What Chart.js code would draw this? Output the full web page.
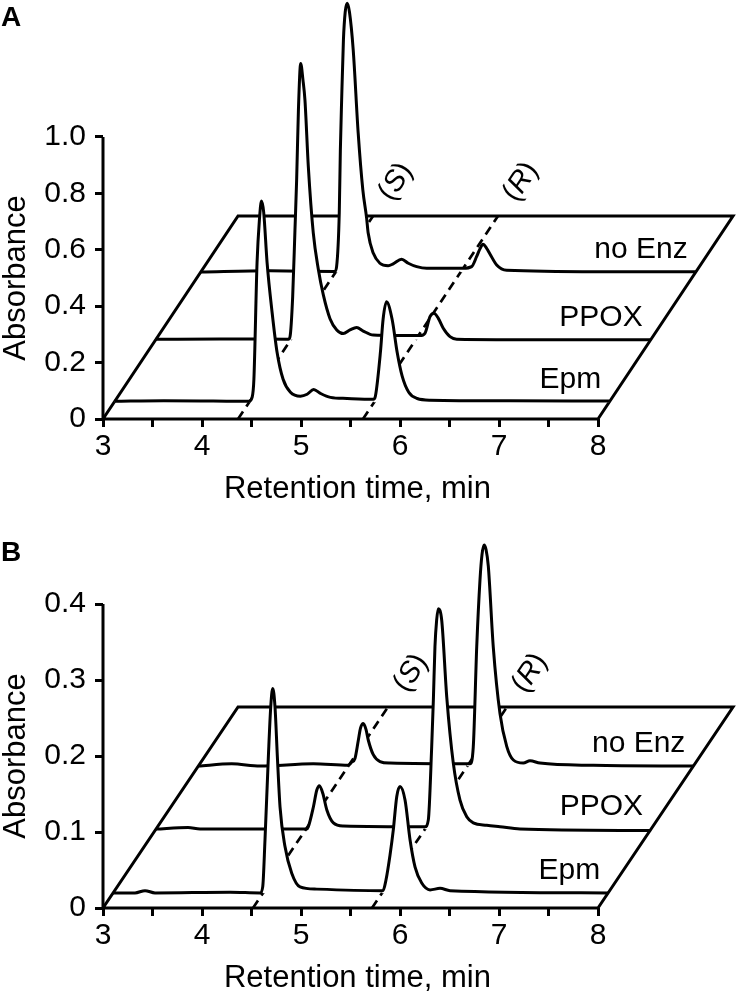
<!DOCTYPE html>
<html>
<head>
<meta charset="utf-8">
<title>Chiral HPLC traces</title>
<script src="https://cdn.jsdelivr.net/npm/chart.js@4"></script>
<style>
    body { margin: 0; background: #fff; }
    .panel { position: absolute; left: 0; }
</style>
</head>
<body>
<div class="panel" style="top: 0;"><canvas id="chartA" width="737" height="510"></canvas></div>
<div class="panel" style="top: 510px;"><canvas id="chartB" width="737" height="486"></canvas></div>
<script>
// Tick labels
const xTicks = [3, 3.5, 4, 4.5, 5, 5.5, 6, 6.5, 7, 7.5, 8];
const yTicksA = [0, 0.2, 0.4, 0.6, 0.8, 1.0];
const yTicksB = [0, 0.1, 0.2, 0.3, 0.4];

// Samples, front to back
const samples = ['Epm', 'PPOX', 'no Enz'];
const enantLabels = ['S', 'R'];

// Pseudo-3D stacking: depth of the floor in minutes / absorbance, and where each trace sits in it
const depthX = 1.364;
const floorA = 0.72;
const floorB = 0.2645;
const depthA = [0.083, 0.39, 0.724];
const depthB = [0.075, 0.393, 0.706];

// Retention time of the (S) and (R) guide lines at the front edge
const enantA = [4.364, 5.626];
const enantB = [4.515, 5.717];

// Traces: [retention time (min), absorbance above the trace's own baseline]
const epmA = [[3.0, 0.003], [3.5, 0.005], [4.0, 0.004], [4.36, 0.003], [4.393, 0.017], [4.411, 0.081], [4.443, 0.496],
    [4.467, 0.648], [4.487, 0.713], [4.510, 0.673], [4.544, 0.496], [4.595, 0.318], [4.645, 0.177], [4.706, 0.081],
    [4.780, 0.035], [4.881, 0.021], [4.949, 0.028], [5.015, 0.045], [5.083, 0.031], [5.184, 0.017], [5.353, 0.013],
    [5.618, 0.010], [5.638, 0.021], [5.689, 0.177], [5.716, 0.294], [5.750, 0.356], [5.807, 0.294], [5.858, 0.177],
    [5.908, 0.093], [5.975, 0.035], [6.060, 0.013], [6.194, 0.007], [7.0, 0.005], [8.0, 0.004]];
const ppoxA = [[3.0, 0.002], [3.65, 0.003], [4.34, 0.002], [4.357, 0.011], [4.384, 0.153], [4.407, 0.389], [4.424, 0.567],
    [4.442, 0.815], [4.465, 0.980], [4.488, 0.921], [4.508, 0.850], [4.542, 0.614], [4.592, 0.379], [4.643, 0.250],
    [4.693, 0.160], [4.761, 0.075], [4.829, 0.035], [4.895, 0.022], [4.963, 0.035], [5.030, 0.044], [5.097, 0.031],
    [5.198, 0.017], [5.670, 0.015], [5.720, 0.023], [5.771, 0.082], [5.811, 0.094], [5.855, 0.076], [5.905, 0.041],
    [5.973, 0.011], [6.041, 0.002], [7.0, 0.0], [8.0, 0.0]];
const noEnzA = [[3.0, 0.0], [3.7, 0.004], [4.355, 0.002], [4.372, 0.019], [4.399, 0.210], [4.410, 0.433], [4.423, 0.610],
    [4.441, 0.823], [4.459, 0.922], [4.479, 0.953], [4.502, 0.922], [4.540, 0.787], [4.590, 0.493], [4.637, 0.291],
    [4.675, 0.192], [4.691, 0.138], [4.742, 0.067], [4.809, 0.031], [4.893, 0.022], [4.944, 0.029], [5.029, 0.045],
    [5.096, 0.031], [5.181, 0.019], [5.282, 0.013], [5.652, 0.013], [5.736, 0.019], [5.787, 0.055], [5.820, 0.082],
    [5.850, 0.098], [5.886, 0.085], [5.921, 0.064], [5.989, 0.025], [6.090, 0.006], [7.0, 0.001], [8.0, 0.001]];

const epmB = [[3.0, 0.0], [3.221, 0.0], [3.322, 0.003], [3.423, 0.0], [4.181, 0.001], [4.484, 0.0], [4.511, 0.008],
    [4.534, 0.070], [4.568, 0.179], [4.592, 0.245], [4.612, 0.269], [4.635, 0.245], [4.659, 0.179], [4.686, 0.113],
    [4.736, 0.061], [4.804, 0.026], [4.888, 0.008], [5.057, 0.005], [5.726, 0.003], [5.756, 0.017], [5.797, 0.050],
    [5.830, 0.083], [5.865, 0.127], [5.898, 0.140], [5.949, 0.122], [5.999, 0.070], [6.050, 0.034], [6.117, 0.013],
    [6.201, 0.004], [6.302, 0.006], [6.403, 0.003], [8.0, 0.0]];
const ppoxB = [[3.0, 0.0], [3.323, 0.002], [3.444, 0.0], [4.522, 0.0], [4.538, 0.003], [4.589, 0.029], [4.623, 0.051],
    [4.650, 0.057], [4.684, 0.047], [4.725, 0.025], [4.791, 0.008], [4.891, 0.004], [5.717, 0.003], [5.750, 0.012],
    [5.784, 0.108], [5.801, 0.170], [5.817, 0.240], [5.834, 0.275], [5.851, 0.290], [5.885, 0.275], [5.936, 0.174],
    [6.002, 0.087], [6.070, 0.038], [6.138, 0.016], [6.204, 0.008], [6.340, 0.005], [6.474, 0.003], [6.676, 0.0],
    [8.0, -0.002]];
const noEnzB = [[3.0, 0.0], [3.337, 0.003], [3.623, 0.0], [4.161, 0.003], [4.515, 0.001], [4.547, 0.005], [4.582, 0.010],
    [4.616, 0.034], [4.638, 0.050], [4.666, 0.056], [4.694, 0.048], [4.717, 0.034], [4.767, 0.015], [4.835, 0.006],
    [4.936, 0.004], [5.744, 0.003], [5.777, 0.025], [5.812, 0.157], [5.845, 0.245], [5.865, 0.278], [5.886, 0.291],
    [5.906, 0.285], [5.929, 0.263], [5.979, 0.157], [6.047, 0.069], [6.115, 0.026], [6.182, 0.008], [6.283, 0.004],
    [6.350, 0.007], [6.451, 0.004], [6.990, 0.001], [8.0, 0.0]];

const FONT = '"Liberation Sans", Arial, Helvetica, sans-serif';

// "(S)" with the letter in italics, centred on the current origin
function drawEnantLabel(ctx, letter) {
    const up = `29px ${FONT}`;
    const it = `italic 29px ${FONT}`;
    ctx.font = up;
    const wp = ctx.measureText('(').width;
    const wq = ctx.measureText(')').width;
    ctx.font = it;
    const wl = ctx.measureText(letter).width;
    let x = -(wp + wl + wq) / 2;
    ctx.textAlign = 'left';
    ctx.textBaseline = 'middle';
    ctx.font = up; ctx.fillText('(', x, 0); x += wp;
    ctx.font = it; ctx.fillText(letter, x, 0); x += wl;
    ctx.font = up; ctx.fillText(')', x, 0);
}

const annotations = {
    id: 'annotations',
    afterDraw(chart, args, opts) {
        const p = opts.panel;
        const { ctx } = chart;
        const x = chart.scales.x, y = chart.scales.y;
        ctx.save();
        ctx.fillStyle = '#000';

        ctx.font = `bold 28px ${FONT}`;
        ctx.textAlign = 'left';
        ctx.textBaseline = 'alphabetic';
        ctx.fillText(p.letter, 1, p.letterY);

        // axis titles, centred on the labelled part of each axis
        ctx.font = `31px ${FONT}`;
        ctx.textAlign = 'center';
        ctx.save();
        ctx.translate(25, y.getPixelForValue(p.yTicks[p.yTicks.length - 1] / 2));
        ctx.rotate(-Math.PI / 2);
        ctx.fillText('Absorbance', 0, 0);
        ctx.restore();
        ctx.fillText('Retention time, min', x.getPixelForValue(5.57), y.getPixelForValue(0) + 79);

        // sample names just above the right end of each trace
        ctx.font = `30px ${FONT}`;
        ctx.textAlign = 'right';
        samples.forEach((name, i) => {
            const d = p.depth[i];
            ctx.fillText(name, x.getPixelForValue(8 + d * depthX) - 8, y.getPixelForValue(d * p.floor) - 14);
        });

        // (S) / (R) beyond the back end of the dashed guide lines
        p.enant.forEach((t0, i) => {
            const x0 = x.getPixelForValue(t0), y0 = y.getPixelForValue(0);
            const x1 = x.getPixelForValue(t0 + depthX), y1 = y.getPixelForValue(p.floor);
            const len = Math.hypot(x1 - x0, y1 - y0);
            const ux = (x1 - x0) / len, uy = (y1 - y0) / len;
            ctx.save();
            ctx.translate(x1 + ux * 41, y1 + uy * 41);
            ctx.rotate(Math.atan2(uy, ux));
            drawEnantLabel(ctx, enantLabels[i]);
            ctx.restore();
        });
        ctx.restore();
    }
};

function solid(data, width) {
    return { data, borderColor: '#000', borderWidth: width, pointRadius: 0, tension: 0, fill: false, clip: false, borderJoinStyle: 'miter' };
}

function makePanel(id, p) {
    const pt = (t, d, a) => ({ x: t + d * depthX, y: a + d * p.floor });

    const trace = (pts, d) => ({
        data: pts.map(([t, a]) => pt(t, d, a)),
        borderColor: '#000',
        borderWidth: 3,
        borderJoinStyle: 'round',
        pointRadius: 0,
        cubicInterpolationMode: 'monotone',
        fill: { value: d * p.floor },   // white wall under the trace hides what is behind it
        backgroundColor: '#fff',
        clip: false
    });

    // dashed guide lines, cut where each trace passes so that peaks in front can cover them
    const bands = [0, ...p.depth, 1];
    const guides = k => p.enant.map(t0 => ({
        ...solid([pt(t0, bands[k], 0), pt(t0, bands[k + 1], 0)], 2.7),
        borderDash: [9, 6]
    }));

    const floor = solid([pt(8, 0, 0), pt(3, 0, 0), pt(3, 1, 0), pt(8, 1, 0), pt(8, 0, 0)], 3);
    const yAxisLine = solid([{ x: 3, y: 0 }, { x: 3, y: p.yTicks[p.yTicks.length - 1] }], 3);

    // first dataset is drawn on top
    const datasets = [
        yAxisLine,
        ...guides(0), trace(p.traces[0], p.depth[0]),
        ...guides(1), trace(p.traces[1], p.depth[1]),
        ...guides(2), trace(p.traces[2], p.depth[2]),
        ...guides(3),
        floor
    ];

    const tickFont = { family: FONT, size: 30 };

    return new Chart(document.getElementById(id), {
        type: 'line',
        data: { datasets },
        options: {
            responsive: false,
            animation: false,
            events: [],
            layout: { padding: { top: 2, right: 0, bottom: 0, left: 0 } },
            plugins: { legend: { display: false }, tooltip: { enabled: false }, annotations: { panel: p } },
            scales: {
                x: {
                    type: 'linear',
                    min: 3,
                    max: 9.404,
                    afterBuildTicks: s => { s.ticks = xTicks.map(v => ({ value: v })); },
                    afterFit: s => { s.height = p.xAxisHeight; s.paddingLeft = 0; s.paddingRight = 0; },
                    border: { display: false },
                    grid: { drawOnChartArea: false, tickLength: 8, tickWidth: 3, tickColor: '#000' },
                    ticks: {
                        autoSkip: false, maxRotation: 0, padding: 2, color: '#000', font: tickFont,
                        callback: v => Number.isInteger(v) ? String(v) : ''
                    }
                },
                y: {
                    type: 'linear',
                    min: 0,
                    max: p.yMax,
                    afterBuildTicks: s => { s.ticks = p.yTicks.map(v => ({ value: v })); },
                    // fixed width, and no extra room for the top label: the axis stops well below the chart top
                    afterFit: s => { s.width = 103; s.paddingTop = 0; s.paddingBottom = 0; },
                    border: { display: false },
                    grid: { drawOnChartArea: false, tickLength: 8, tickWidth: 3, tickColor: '#000' },
                    ticks: {
                        autoSkip: false, padding: 9, color: '#000', font: tickFont,
                        callback: v => v === 0 ? '0' : v.toFixed(1)
                    }
                }
            }
        },
        plugins: [annotations]
    });
}

makePanel('chartA', {
    letter: 'A', letterY: 26,
    traces: [epmA, ppoxA, noEnzA], depth: depthA, floor: floorA, enant: enantA,
    yTicks: yTicksA, yMax: 1.4787, xAxisHeight: 91
});

makePanel('chartB', {
    letter: 'B', letterY: 51,
    traces: [epmB, ppoxB, noEnzB], depth: depthB, floor: floorB, enant: enantB,
    yTicks: yTicksB, yMax: 0.5211, xAxisHeight: 88
});
</script>
</body>
</html>
